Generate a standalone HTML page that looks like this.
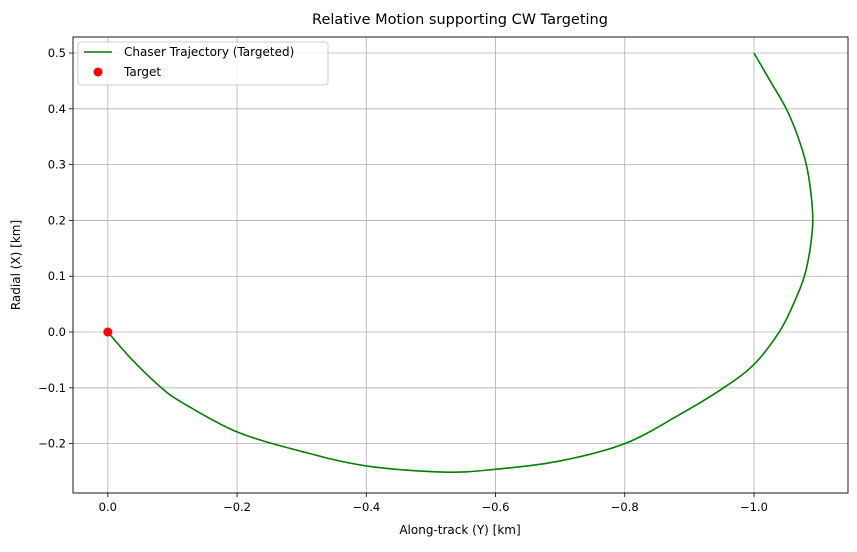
<!DOCTYPE html>
<html><head><meta charset="utf-8"><style>
body{margin:0;background:#fff;font-family:"Liberation Sans","DejaVu Sans",sans-serif;}
</style></head><body>
<svg id="chart" width="857" height="547" xmlns="http://www.w3.org/2000/svg" font-family="DejaVu Sans, Liberation Sans, sans-serif">
<text x="460" y="24" text-anchor="middle" font-size="14.5" fill="#000">Relative Motion supporting CW Targeting</text>
<g id="grid"></g><g id="ticks"></g>
<path id="traj" fill="none" stroke="#008000" stroke-width="1.6" stroke-linejoin="round"/>
<circle id="target" r="4.5" fill="#ff0000"/>
<rect x="73" y="37" width="775" height="456" fill="none" stroke="#000" stroke-width="0.9"/>
<text x="460" y="534" text-anchor="middle" font-size="12">Along-track (Y) [km]</text>
<text transform="translate(20,265) rotate(-90)" text-anchor="middle" font-size="12">Radial (X) [km]</text>
<g>
<rect x="78" y="42" width="250" height="43" rx="3" fill="#fff" fill-opacity="0.8" stroke="#ccc"/>
<line x1="84" y1="52" x2="112" y2="52" stroke="#008000" stroke-width="1.6"/>
<text x="124" y="56" font-size="12">Chaser Trajectory (Targeted)</text>
<circle cx="98" cy="72" r="4.5" fill="#ff0000"/>
<text x="124" y="76" font-size="12">Target</text>
</g>
</svg>
<script>
const xTicks=[0.0,-0.2,-0.4,-0.6,-0.8,-1.0];
const yTicks=[0.5,0.4,0.3,0.2,0.1,0.0,-0.1,-0.2];
const trajY=[-1.0,-1.025,-1.050,-1.068,-1.081,-1.088,-1.091,-1.087,-1.078,-1.061,-1.039,-1.0,-0.953,-0.882,-0.8,-0.7,-0.6,-0.52,-0.4,-0.3,-0.2,-0.116,-0.083,-0.037,0.0];
const trajX=[0.5,0.45,0.4,0.35,0.3,0.25,0.2,0.15,0.1,0.05,0.0,-0.058,-0.1,-0.15,-0.2,-0.231,-0.246,-0.251,-0.240,-0.214,-0.179,-0.127,-0.1,-0.049,0.0];
const targetY=[0.0], targetX=[0.0];
const L=73,R=848,T=37,B=493;
const xmin=0.0539,xmax=-1.1455,ymin=-0.2885,ymax=0.5287;
const sx=v=>L+(v-xmin)/(xmax-xmin)*(R-L);
const sy=v=>B-(v-ymin)/(ymax-ymin)*(B-T);
const NS="http://www.w3.org/2000/svg";
const grid=document.getElementById('grid'),ticks=document.getElementById('ticks');
function mk(tag,a,p){const e=document.createElementNS(NS,tag);for(const k in a)e.setAttribute(k,a[k]);p.appendChild(e);return e;}
xTicks.forEach(v=>{const x=sx(v);
 const g=mk('line',{x1:x,x2:x,y1:T,y2:B,stroke:'#b0b0b0','stroke-width':0.8},grid);
 
 
 mk('line',{x1:x,x2:x,y1:B,y2:B+4,stroke:'#000','stroke-width':0.8},ticks);
 const t=mk('text',{x:x,y:B+18,'text-anchor':'middle','font-size':11.5},ticks);
 t.textContent=(v===0?'0.0':(v<0?'\u2212':'')+Math.abs(v).toFixed(1));
 
 });
yTicks.forEach(v=>{const y=sy(v);
 const g=mk('line',{x1:L,x2:R,y1:y,y2:y,stroke:'#b0b0b0','stroke-width':0.8},grid);
 
 
 mk('line',{x1:L-4,x2:L,y1:y,y2:y,stroke:'#000','stroke-width':0.8},ticks);
 const t=mk('text',{x:L-7,y:y+4,'text-anchor':'end','font-size':11.5},ticks);
 t.textContent=(v<0?'\u2212':'')+Math.abs(v).toFixed(1);
 
 });
const P=trajY.map((v,i)=>[sx(v),sy(trajX[i])]);
let d='M'+P[0][0]+','+P[0][1];
for(let i=0;i<P.length-1;i++){const p0=P[Math.max(0,i-1)],p1=P[i],p2=P[i+1],p3=P[Math.min(P.length-1,i+2)];
 d+=' C'+(p1[0]+(p2[0]-p0[0])/6)+','+(p1[1]+(p2[1]-p0[1])/6)+' '+(p2[0]-(p3[0]-p1[0])/6)+','+(p2[1]-(p3[1]-p1[1])/6)+' '+p2[0]+','+p2[1];}
document.getElementById('traj').setAttribute('d',d);
const tg=document.getElementById('target');tg.setAttribute('cx',sx(targetY[0]));tg.setAttribute('cy',sy(targetX[0]));
</script>
</body></html>
